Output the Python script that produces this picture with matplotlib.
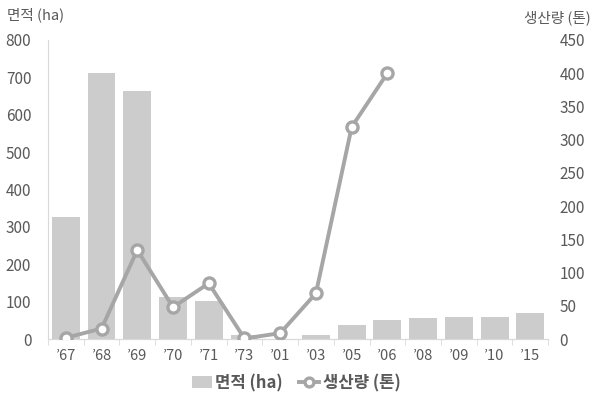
import matplotlib.pyplot as plt
import numpy as np

plt.rcParams["font.family"] = ["Noto Sans CJK KR", "DejaVu Sans"]

years = ["’67", "’68", "’69", "’70", "’71", "’73", "’01",
         "’03", "’05", "’06", "’08", "’09", "’10", "’15"]
area_ha = [326, 712, 663, 112, 101, 10, 0, 10, 39, 50, 56, 59, 59, 70]
output_ton = [2, 16, 134, 48, 84, 1, 9, 69, 319, 400]

bar_color = "#cccccc"
line_color = "#a6a6a6"
text_color = "#595959"
spine_color = "#d9d9d9"

fig = plt.figure(figsize=(5.92, 3.99), dpi=100)
ax = fig.add_axes([0.081, 0.150, 0.845, 0.750])
ax2 = ax.twinx()

x = np.arange(len(years))
bars = ax.bar(x, area_ha, width=0.78, color=bar_color, label="면적 (ha)", zorder=1)
line, = ax2.plot(x[:len(output_ton)], output_ton, color=line_color, linewidth=2.8,
                 marker="o", markersize=8, markerfacecolor="white",
                 markeredgecolor=line_color, markeredgewidth=2.4,
                 label="생산량 (톤)", zorder=3)

ax.set_xlim(-0.5, len(years) - 0.5)
ax.set_ylim(0, 800)
ax.set_yticks(range(0, 801, 100))
ax2.set_ylim(0, 450)
ax2.set_yticks(range(0, 451, 50))

ax.set_xticks(x)
ax.set_xticklabels(years)
ax.set_xticks(np.arange(-0.5, len(years), 1), minor=True)
ax.tick_params(axis="x", which="major", length=0, pad=7, labelsize=10.5, labelcolor=text_color)
ax.tick_params(axis="x", which="minor", length=4, color=spine_color, direction="out")
ax.tick_params(axis="y", length=0, pad=12, labelsize=11, labelcolor=text_color)
ax2.tick_params(axis="y", length=0, pad=8, labelsize=11, labelcolor=text_color)

for a in (ax, ax2):
    for side in ("top", "right", "left"):
        a.spines[side].set_visible(False)
    a.spines["bottom"].set_color(spine_color)
ax.spines["left"].set_visible(True)
ax.spines["left"].set_color(spine_color)

fig.text(0.012, 0.963, "면적 (ha)", fontsize=10.5, color=text_color, ha="left", va="center")
fig.text(0.885, 0.955, "생산량 (톤)", fontsize=10.5, color=text_color, ha="left", va="center")

leg = fig.legend(handles=[bars, line], loc="center", bbox_to_anchor=(0.5, 0.04),
                 ncol=2, frameon=False, fontsize=12, handlelength=1.2,
                 handletextpad=0.2, columnspacing=1.0, markerscale=0.8)
for t in leg.get_texts():
    t.set_color(text_color)
    t.set_fontweight("bold")

fig.savefig("out.png", dpi=100)
